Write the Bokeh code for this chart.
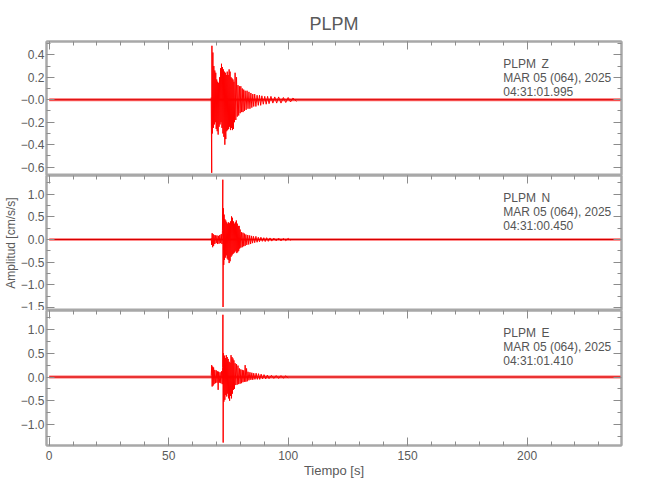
from bokeh.plotting import figure
from bokeh.layouts import column
from bokeh.models import (LinearAxis, Range1d, FixedTicker, SingleIntervalTicker,
                          Label, Title, CustomJSTickFormatter, Spacer)
from bokeh.embed import file_html
from bokeh.resources import INLINE

# ---------------- data ----------------
station = "PLPM"
components = ["Z", "N", "E"]
date_label = "MAR 05 (064), 2025"
start_labels = ["04:31:01.995", "04:31:00.450", "04:31:01.410"]
record_start = 0.0
record_end = 239.2
noise_amp = [0.014, 0.03, 0.03]

z_time = [67.8, 68.0, 68.1, 68.3, 68.5, 68.7, 68.9, 69.1, 69.3, 69.5, 69.7, 69.9, 70.1, 70.3, 70.5,
          70.7, 70.9, 71.1, 71.3, 71.5, 71.7, 71.9, 72.1, 72.3, 72.5, 72.7, 72.9, 73.1, 73.3, 73.5,
          73.7, 73.9, 74.1, 74.3, 74.5, 74.7, 74.9, 75.1, 75.3, 75.5, 75.7, 75.9, 76.1, 76.3, 76.5,
          76.7, 76.9, 77.1, 77.3, 77.5, 77.8, 78.1, 78.4, 78.7, 79.0, 79.3, 79.6, 79.9, 80.2, 80.5,
          80.8, 81.1, 81.4, 81.7, 82.0, 82.4, 82.8, 83.2, 83.6, 84.0, 84.4, 84.8, 85.2, 85.6, 86.0,
          86.5, 87.0, 87.5, 88.0, 88.5, 89.0, 89.6, 90.2, 90.8, 91.4, 92.0, 92.8, 93.6, 94.4, 95.2,
          96.0, 97.0, 98.0, 99.0, 100.0, 101.0, 102.0, 103.5]
z_amp = [0.02, -0.65, 0.48, -0.30, 0.42, -0.25, 0.30, -0.22, 0.26, -0.20, 0.24, -0.26, 0.18, -0.28, 0.16,
         -0.31, 0.15, -0.24, 0.20, -0.22, 0.28, -0.20, 0.32, -0.25, 0.29, -0.30, 0.27, -0.33, 0.25, -0.40,
         0.24, -0.35, 0.22, -0.28, 0.25, -0.27, 0.22, -0.26, 0.27, -0.24, 0.25, -0.27, 0.20, -0.25, 0.19,
         -0.27, 0.18, -0.26, 0.16, -0.20, 0.24, -0.18, 0.20, -0.15, 0.13, -0.14, 0.12, -0.12, 0.12, -0.11,
         0.10, -0.11, 0.09, -0.10, 0.08, -0.09, 0.08, -0.08, 0.07, -0.08, 0.06, -0.07, 0.05, -0.06, 0.05,
         -0.06, 0.04, -0.05, 0.04, -0.05, 0.035, -0.04, 0.03, -0.04, 0.03, -0.035, 0.03, -0.03, 0.025, -0.03,
         0.025, -0.03, 0.02, -0.025, 0.02, -0.02, 0.015, -0.015]

n_time = [67.8, 68.0, 68.2, 68.4, 68.6, 68.8, 69.0, 69.3, 69.6, 69.9, 70.2, 70.5, 70.8, 71.1, 71.4,
          71.7, 72.0, 72.3, 72.5, 72.65, 72.75, 72.9, 73.05, 73.2, 73.35, 73.5, 73.7, 73.9, 74.1, 74.3,
          74.5, 74.7, 74.9, 75.1, 75.3, 75.5, 75.7, 75.9, 76.1, 76.3, 76.5, 76.7, 76.9, 77.1, 77.3,
          77.5, 77.7, 77.9, 78.1, 78.3, 78.5, 78.7, 78.9, 79.1, 79.3, 79.5, 79.7, 79.9, 80.2, 80.5,
          80.8, 81.1, 81.4, 81.7, 82.0, 82.3, 82.7, 83.1, 83.5, 83.9, 84.3, 84.7, 85.1, 85.5, 86.0,
          86.5, 87.0, 87.5, 88.0, 88.6, 89.2, 89.8, 90.4, 91.0, 91.7, 92.4, 93.1, 94.0, 95.0, 96.0,
          97.0, 98.0, 99.0, 100.0, 101.0]
n_amp = [0.03, -0.12, 0.14, -0.17, 0.12, -0.14, 0.10, -0.10, 0.09, -0.08, 0.09, -0.10, 0.08, -0.09, 0.10,
         -0.08, 0.12, -0.10, 0.20, 1.32, -1.49, 0.69, -0.56, 0.55, -0.45, 0.45, -0.40, 0.42, -0.35, 0.38,
         -0.42, 0.35, -0.45, 0.38, -0.52, 0.36, -0.48, 0.40, -0.38, 0.51, -0.35, 0.48, -0.32, 0.40, -0.30,
         0.35, -0.28, 0.38, -0.25, 0.42, -0.30, 0.35, -0.28, 0.30, -0.25, 0.30, -0.20, 0.22, -0.18, 0.16,
         -0.17, 0.15, -0.15, 0.13, -0.14, 0.11, -0.12, 0.10, -0.11, 0.09, -0.10, 0.08, -0.08, 0.07, -0.07,
         0.07, -0.06, 0.05, -0.05, 0.05, -0.04, 0.04, -0.045, 0.04, -0.04, 0.035, -0.035, 0.03, -0.03, 0.03,
         -0.03, 0.025, -0.025, 0.025, -0.02]

e_time = [67.8, 68.0, 68.2, 68.4, 68.6, 68.8, 69.0, 69.3, 69.6, 69.9, 70.2, 70.5, 70.7, 70.9, 71.2,
          71.5, 71.8, 72.1, 72.4, 72.6, 72.7, 72.8, 72.95, 73.1, 73.3, 73.5, 73.7, 73.9, 74.1, 74.3,
          74.5, 74.7, 74.9, 75.1, 75.3, 75.5, 75.7, 75.9, 76.1, 76.3, 76.5, 76.7, 76.9, 77.1, 77.3,
          77.5, 77.8, 78.1, 78.4, 78.7, 79.0, 79.3, 79.6, 79.9, 80.2, 80.5, 80.8, 81.1, 81.4, 81.7,
          82.0, 82.3, 82.6, 82.9, 83.2, 83.6, 84.0, 84.4, 84.8, 85.2, 85.6, 86.1, 86.6, 87.1, 87.6,
          88.1, 88.7, 89.3, 89.9, 90.6, 91.3, 92.0, 93.0, 94.0, 95.0, 96.0, 97.0, 98.0, 99.0, 100.0]
e_amp = [0.03, 0.25, -0.20, 0.22, -0.18, 0.20, -0.15, 0.15, -0.13, 0.14, -0.12, 0.12, -0.27, 0.11, -0.12,
         0.10, -0.13, 0.12, -0.15, 0.20, 1.31, -1.38, 0.50, -0.52, 0.45, -0.48, 0.40, -0.38, 0.46, -0.41,
         0.42, -0.35, 0.38, -0.45, 0.32, -0.50, 0.30, -0.40, 0.46, -0.45, 0.42, -0.35, 0.39, -0.27, 0.35,
         -0.25, 0.29, -0.17, 0.27, -0.16, 0.24, -0.15, 0.18, -0.14, 0.16, -0.13, 0.15, -0.11, 0.14, -0.10,
         0.25, -0.10, 0.18, -0.09, 0.11, -0.07, 0.10, -0.06, 0.09, -0.06, 0.08, -0.05, 0.08, -0.05, 0.07,
         -0.05, 0.06, -0.04, 0.05, -0.04, 0.04, -0.035, 0.035, -0.03, 0.03, -0.03, 0.03, -0.025, 0.025, -0.02]

# axis ticks / labels
top_ticks = [-0.6, -0.4, -0.2, 0.0, 0.2, 0.4]
top_labels = ["\u22120.6", "\u22120.4", "\u22120.2", "\u22120.0", "0.2", "0.4"]
top_minor = [-0.7, -0.5, -0.3, -0.1, 0.1, 0.3, 0.5]
ne_ticks = [-1.5, -1.0, -0.5, 0.0, 0.5, 1.0]
ne_labels = ["\u22121.5", "\u22121.0", "\u22120.5", "0.0", "0.5", "1.0"]
ne_minor = [-1.75, -1.25, -0.75, -0.25, 0.25, 0.75, 1.25]
x_ticks = [0, 50, 100, 150, 200]
x_labels = ["0", "50", "100", "150", "200"]

# ---------------- styling ----------------
FONT = "Liberation Sans"
AX = "#a8a8a8"
TICK = "#8c8c8c"
TXT = "#5a5a5a"
FRAME_W = 575
X_RANGE = (-1.13, 239.5)


def fmt(ticks, labels):
    return CustomJSTickFormatter(args=dict(tv=ticks, tl=labels), code="""
        for (let i = 0; i < tv.length; i++) { if (Math.abs(tv[i] - tick) < 1e-9) return tl[i]; }
        return '';
    """)


def style_axis(ax, labels_on):
    ax.axis_line_color = AX
    ax.axis_line_width = 2
    ax.major_tick_line_color = TICK
    ax.minor_tick_line_color = TICK
    ax.major_tick_in = 8
    ax.major_tick_out = 0
    ax.minor_tick_in = 4
    ax.minor_tick_out = 0
    ax.major_label_text_font = FONT
    ax.major_label_text_color = TXT
    ax.major_label_text_font_size = "12px"
    ax.major_label_standoff = 2 if labels_on else 0


def panel(idx, t, a, yr, ticks, labels, minor, fh, first=False, last=False, ylabel=None):
    p = figure(frame_width=FRAME_W, frame_height=fh,
               x_range=Range1d(*X_RANGE), y_range=Range1d(*yr),
               output_backend="svg", toolbar_location=None,
               x_axis_location=None, y_axis_location=None,
               min_border_left=42, min_border_right=18,
               min_border_top=0, min_border_bottom=0,
               outline_line_color=AX, outline_line_width=2,
               background_fill_color="white", border_fill_color="white")
    p.grid.visible = False
    if first:
        p.title = Title(text=station, align="center", text_font=FONT, text_font_size="18px",
                        text_font_style="normal", text_color=TXT, standoff=15)
    yt = FixedTicker(ticks=ticks, minor_ticks=minor)
    xt = SingleIntervalTicker(interval=50, num_minor_ticks=5)

    left = LinearAxis(ticker=yt, formatter=fmt(ticks, labels))
    style_axis(left, True)
    if ylabel:
        left.axis_label = ylabel
        left.axis_label_text_font = FONT
        left.axis_label_text_font_size = "12px"
        left.axis_label_text_font_style = "normal"
        left.axis_label_text_color = TXT
        left.axis_label_standoff = 0
    p.add_layout(left, "left")

    right = LinearAxis(ticker=yt, formatter=fmt([], []))
    style_axis(right, False)
    p.add_layout(right, "right")

    top = LinearAxis(ticker=xt, formatter=fmt([], []))
    style_axis(top, False)
    p.add_layout(top, "above")

    if last:
        bot = LinearAxis(ticker=xt, formatter=fmt(x_ticks, x_labels))
        style_axis(bot, True)
        bot.major_label_standoff = 5
        bot.axis_label = "Tiempo [s]"
        bot.axis_label_text_font = FONT
        bot.axis_label_text_font_size = "13px"
        bot.axis_label_text_font_style = "normal"
        bot.axis_label_text_color = TXT
        bot.axis_label_standoff = 0
        p.add_layout(bot, "below")

    n0 = noise_amp[idx]
    p.varea(x=[record_start, record_end], y1=[-n0, -n0], y2=[n0, n0],
            fill_color="red", fill_alpha=0.6)
    p.line(x=[record_start, record_end], y=[0.0, 0.0], line_color="#d40000", line_width=1)
    n = min(len(t), len(a))
    p.line(x=t[:n], y=a[:n], line_color="red", line_width=1)

    ymin, ymax = yr
    per_px = (ymax - ymin) / fh
    offs = [22, 36, 50.5]
    kw = dict(text_font=FONT, text_font_size="12px", text_color="#555555",
              text_baseline="middle", text_align="left")
    p.add_layout(Label(x=190, y=ymax - offs[0] * per_px, text=station, **kw))
    p.add_layout(Label(x=206, y=ymax - offs[0] * per_px, text=components[idx], **kw))
    p.add_layout(Label(x=190, y=ymax - offs[1] * per_px, text=date_label, **kw))
    p.add_layout(Label(x=190, y=ymax - offs[2] * per_px, text=start_labels[idx], **kw))
    return p


p1 = panel(0, z_time, z_amp, (-0.674, 0.518), top_ticks, top_labels, top_minor, 134, first=True)
p2 = panel(1, n_time, n_amp, (-1.567, 1.413), ne_ticks, ne_labels, ne_minor, 135,
           ylabel="Amplitud [cm/s/s]")
p3 = panel(2, e_time, e_amp, (-1.442, 1.40), ne_ticks, ne_labels, ne_minor, 135, last=True)

layout = column(Spacer(width=635, height=4), p1, p2, p3, spacing=0)
open("out.html", "w").write(file_html(layout, INLINE))
